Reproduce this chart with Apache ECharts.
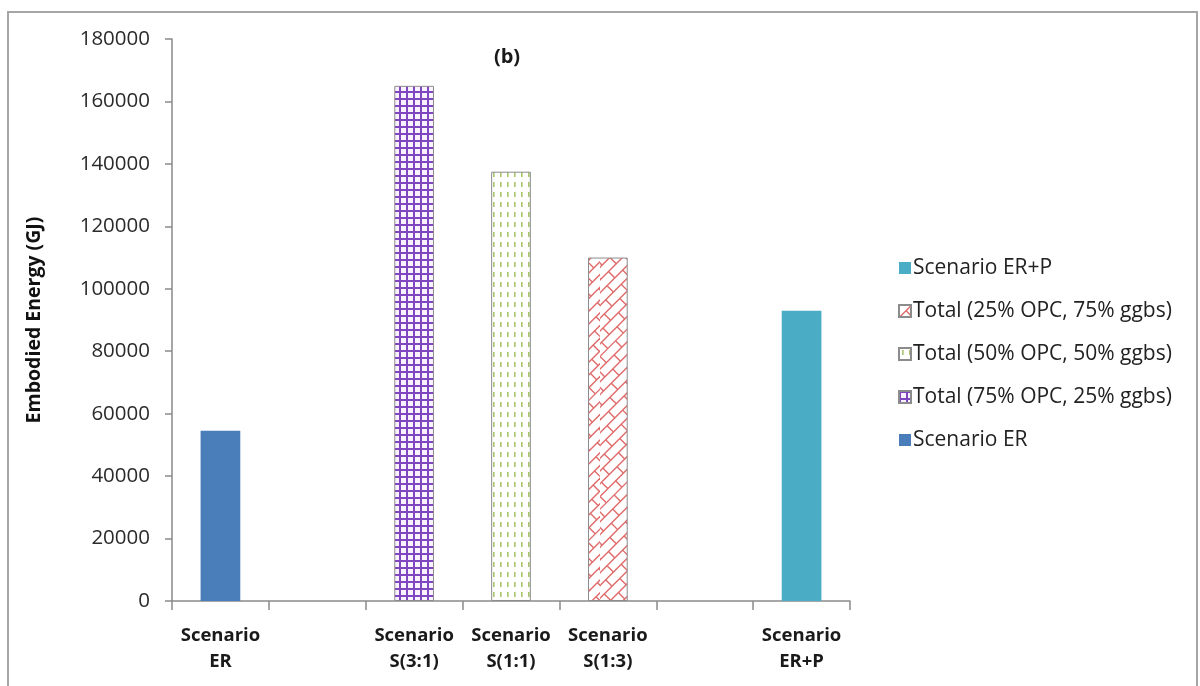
<!DOCTYPE html>
<html><head><meta charset="utf-8">
<script src="https://cdn.jsdelivr.net/npm/echarts@6/dist/echarts.min.js"></script>
<style>html,body{margin:0;padding:0;background:#fff}#c{width:1200px;height:686px}</style>
</head><body><div id="c"></div>
<script>
// ---- data ----
const categories = ['Scenario\nER', '', 'Scenario\nS(3:1)', 'Scenario\nS(1:1)', 'Scenario\nS(1:3)', '', 'Scenario\nER+P'];
const seriesNames = ['Scenario ER', 'Total (75% OPC, 25% ggbs)', 'Total (50% OPC, 50% ggbs)', 'Total (25% OPC, 75% ggbs)', 'Scenario ER+P'];
const scenarioER   = [54500, null, null, null, null, null, null];
const total75      = [null, null, 165000, null, null, null, null];
const total50      = [null, null, null, 137500, null, null, null];
const total25      = [null, null, null, null, 110000, null, null];
const scenarioERP  = [null, null, null, null, null, null, 93000];
const yTicks = { min: 0, max: 180000, interval: 20000 };
const legendOrder = ['Scenario ER+P', 'Total (25% OPC, 75% ggbs)', 'Total (50% OPC, 50% ggbs)', 'Total (75% OPC, 25% ggbs)', 'Scenario ER'];

// ---- patterns ----
function gridPattern() {
  const c = document.createElement('canvas'); c.width = 7; c.height = 7;
  const g = c.getContext('2d');
  g.fillStyle = '#fbf2ff'; g.fillRect(0, 0, 7, 7);
  g.fillStyle = '#8046bf';
  g.fillRect(0, 0, 7, 2); g.fillRect(0, 0, 2, 7);
  return c;
}
function dashPattern() {
  const c = document.createElement('canvas'); c.width = 7; c.height = 10;
  const g = c.getContext('2d');
  g.fillStyle = '#ffffff'; g.fillRect(0, 0, 7, 10);
  g.fillStyle = '#a9c46a';
  g.fillRect(3, 2, 1.6, 5);
  return c;
}
function brickPattern() {
  const W = 120, H = 700;
  const c = document.createElement('canvas'); c.width = W; c.height = H;
  const g = c.getContext('2d');
  g.fillStyle = '#ffffff'; g.fillRect(0, 0, W, H);
  g.strokeStyle = '#e06a6a'; g.lineWidth = 1.4;
  g.save();
  g.rotate(-Math.PI / 4);
  const sp = 9, brick = 22;
  for (let r = -120; r < 140; r++) {
    const y = r * sp;
    g.beginPath(); g.moveTo(-1000, y); g.lineTo(1000, y); g.stroke();
    const off = (Math.abs(r) % 2 === 0) ? 0 : brick / 2;
    for (let x = -1000 + off; x < 1000; x += brick) {
      g.beginPath(); g.moveTo(x, y); g.lineTo(x, y + sp); g.stroke();
    }
  }
  g.restore();
  return c;
}

const FONT = '"Open Sans"';
const chart = echarts.init(document.getElementById('c'), null, { renderer: 'canvas' });
const patternBorder = { borderColor: '#8c8c8c', borderWidth: 1 };
function mk(name, data, itemStyle) {
  return { name, type: 'bar', stack: 'one', data, barWidth: '41%', itemStyle };
}
chart.setOption({
  animation: false,
  backgroundColor: '#ffffff',
  graphic: [{
    type: 'rect', shape: { x: 8, y: 12, width: 1189, height: 690 },
    style: { fill: 'none', stroke: '#a6a6a6', lineWidth: 2 }, silent: true
  }],
  title: {
    text: '(b)', left: 502, top: 42, textAlign: 'center',
    textStyle: { fontFamily: FONT, fontSize: 20, fontWeight: 'bold', color: '#1a1a1a' }
  },
  legend: {
    orient: 'vertical', left: 893, top: 252, itemGap: 21, itemWidth: 12, itemHeight: 12,
    data: legendOrder, icon: 'rect',
    textStyle: { fontFamily: FONT, fontSize: 21, color: '#222', lineHeight: 22, padding: [0, 0, 0, -3] }
  },
  grid: { left: 172, right: 350, top: 39, bottom: 85 },
  xAxis: {
    type: 'category', data: categories,
    axisLine: { lineStyle: { color: '#8a8a8a', width: 1.5 } },
    axisTick: { show: true, alignWithLabel: false, length: 9, lineStyle: { color: '#8a8a8a', width: 1.5 } },
    axisLabel: { interval: 0, margin: 22, fontFamily: FONT, fontSize: 18.5, fontWeight: 'bold', color: '#1a1a1a', lineHeight: 26 }
  },
  yAxis: {
    type: 'value', min: yTicks.min, max: yTicks.max, interval: yTicks.interval,
    name: 'Embodied Energy (GJ)', nameLocation: 'middle', nameGap: 128, nameRotate: 90,
    nameTextStyle: { fontFamily: FONT, fontSize: 19.5, fontWeight: 'bold', color: '#111' },
    splitLine: { show: false },
    axisLine: { show: true, lineStyle: { color: '#8a8a8a', width: 1.5 } },
    axisTick: { show: true, length: 7, lineStyle: { color: '#8a8a8a', width: 1.5 } },
    axisLabel: { fontFamily: FONT, fontSize: 20.5, color: '#2b2b2b', margin: 22, formatter: v => String(v) }
  },
  series: [
    mk(seriesNames[0], scenarioER, { color: '#4a7ebb' }),
    mk(seriesNames[1], total75, Object.assign({ color: { image: gridPattern(), repeat: 'repeat' } }, patternBorder)),
    mk(seriesNames[2], total50, Object.assign({ color: { image: dashPattern(), repeat: 'repeat' } }, patternBorder)),
    mk(seriesNames[3], total25, Object.assign({ color: { image: brickPattern(), repeat: 'repeat' } }, patternBorder)),
    mk(seriesNames[4], scenarioERP, { color: '#4bacc6' })
  ]
});
</script></body></html>
